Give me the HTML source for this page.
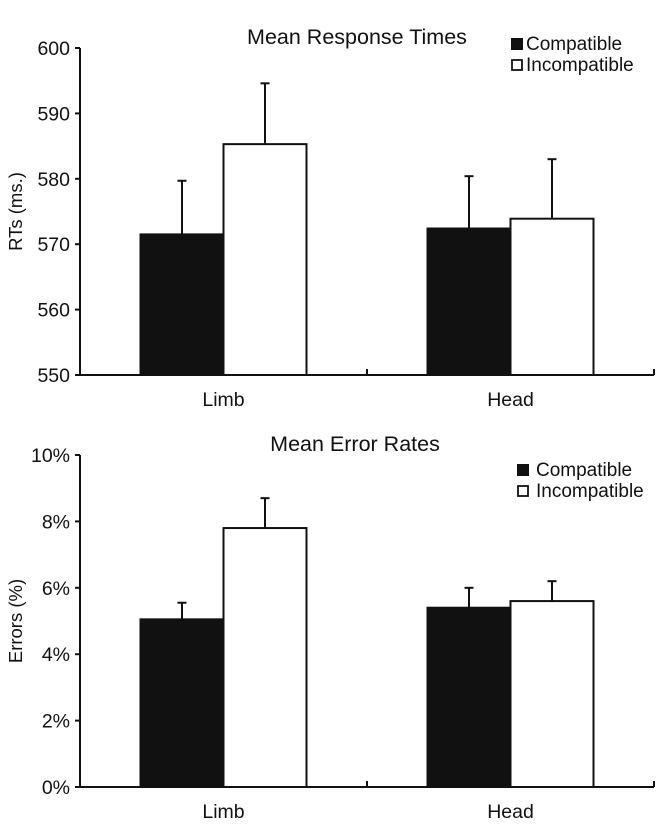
<!DOCTYPE html>
<html><head><meta charset="utf-8"><style>
body{margin:0;background:#fff;}
svg text{font-family:"Liberation Sans",Arial,sans-serif;fill:#111;}
</style></head><body>
<svg width="672" height="827" viewBox="0 0 672 827">
<g id="top"></g>
<g id="bot"></g>
</svg>
<script>
const categories = ["Limb", "Head"];
const rtCompatible = [571.5, 572.4];
const rtIncompatible = [585.3, 573.9];
const rtCompatibleErr = [8.2, 8.0];
const rtIncompatibleErr = [9.3, 9.1];
const rtTicks = [550, 560, 570, 580, 590, 600];
const erCompatible = [5.05, 5.4];
const erIncompatible = [7.8, 5.6];
const erCompatibleErr = [0.5, 0.6];
const erIncompatibleErr = [0.9, 0.6];
const erTicks = [0, 2, 4, 6, 8, 10];

const NS = "http://www.w3.org/2000/svg";
function mk(parent, tag, attrs, text) {
  const e = document.createElementNS(NS, tag);
  for (const k in attrs) e.setAttribute(k, attrs[k]);
  if (text !== undefined) e.textContent = text;
  parent.appendChild(e);
  return e;
}

function drawChart(g, cfg) {
  const x0 = 80, x1 = 654;
  const yTop = cfg.yTop, yBot = cfg.yBot;
  const vmin = cfg.ticks[0], vmax = cfg.ticks[cfg.ticks.length - 1];
  const y = v => yBot - (v - vmin) / (vmax - vmin) * (yBot - yTop);
  const catW = (x1 - x0) / categories.length;
  const barW = 83;

  let ya = mk(g, "line", {x1: x0, y1: yTop, x2: x0, y2: yBot, stroke: "#111", "stroke-width": 2});
  
  
  let xa = mk(g, "line", {x1: x0, y1: yBot, x2: x1, y2: yBot, stroke: "#111", "stroke-width": 2});
  
  
  for (let i = 1; i <= categories.length; i++) {
    const tx = x0 + i * catW;
    const t = mk(g, "line", {x1: tx, y1: yBot, x2: tx, y2: yBot - 6, stroke: "#111", "stroke-width": 2});
    
    
  }
  cfg.ticks.forEach(v => {
    const t = mk(g, "line", {x1: x0 - 5, y1: y(v), x2: x0, y2: y(v), stroke: "#111", "stroke-width": 2});
    
    
    const l = mk(g, "text", {x: x0 - 10, y: y(v) + 7, "text-anchor": "end", "font-size": 19.5}, cfg.fmt(v));
    
    
  });
  const yt = mk(g, "text", {x: 22, y: (yTop + yBot) / 2, "text-anchor": "middle", "font-size": 18.5, transform: `rotate(-90 22 ${(yTop + yBot) / 2})`}, cfg.yTitle);
  
  
  const tt = mk(g, "text", {x: cfg.titleX, y: yTop - 4, "text-anchor": "middle", "font-size": 21.5}, cfg.title);
  
  

  categories.forEach((c, i) => {
    const cx = x0 + (i + 0.5) * catW;
    const series = [[cfg.comp, cfg.compErr, "#111"], [cfg.inc, cfg.incErr, "#fff"]];
    series.forEach((s, j) => {
      const bx = cx - barW + j * barW;
      const v = s[0][i], e = s[1][i];
      const ex = bx + barW / 2;
      const el = mk(g, "line", {x1: ex, y1: y(v), x2: ex, y2: y(v + e), stroke: "#111", "stroke-width": 2});
      
      
      const ec = mk(g, "line", {x1: ex - 4.5, y1: y(v + e), x2: ex + 4.5, y2: y(v + e), stroke: "#111", "stroke-width": 2});
      
      
      const r = mk(g, "rect", {x: bx, y: y(v), width: barW, height: yBot - y(v), fill: s[2], stroke: "#111", "stroke-width": 2});
      
      
    });
    const lab = mk(g, "text", {x: cx, y: yBot + 31, "text-anchor": "middle", "font-size": 19.5}, c);
    
    
  });

  const lx = cfg.legX, ly = cfg.legY;
  const s1 = mk(g, "rect", {x: lx, y: ly - 12, width: 12, height: 12, fill: "#111"});
  
  
  const t1 = mk(g, "text", {x: lx + cfg.legGap, y: ly, "font-size": 19}, "Compatible");
  
  
  const s2 = mk(g, "rect", {x: lx + 1, y: ly + 10, width: 10, height: 10, fill: "#fff", stroke: "#111", "stroke-width": 1.8});
  
  
  const t2 = mk(g, "text", {x: lx + cfg.legGap, y: ly + 21, "font-size": 19}, "Incompatible");
  
  
}

drawChart(document.getElementById("top"), {
  yTop: 48, yBot: 375, ticks: rtTicks, fmt: v => String(v),
  comp: rtCompatible, inc: rtIncompatible, compErr: rtCompatibleErr, incErr: rtIncompatibleErr,
  title: "Mean Response Times", titleX: 357, yTitle: "RTs (ms.)", legX: 511, legY: 50, legGap: 15
});
drawChart(document.getElementById("bot"), {
  yTop: 455, yBot: 787, ticks: erTicks, fmt: v => v + "%",
  comp: erCompatible, inc: erIncompatible, compErr: erCompatibleErr, incErr: erIncompatibleErr,
  title: "Mean Error Rates", titleX: 355, yTitle: "Errors (%)", legX: 517, legY: 476, legGap: 19
});
</script>
</body></html>
